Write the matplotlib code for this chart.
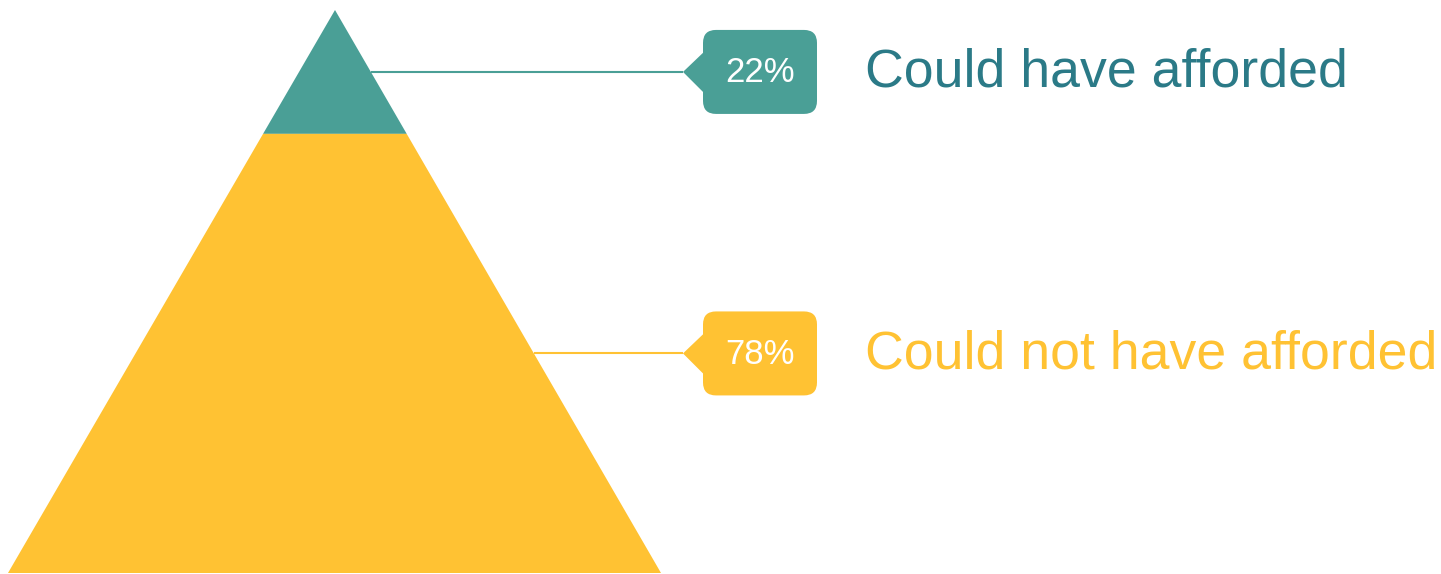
import numpy as np
import matplotlib
matplotlib.use("Agg")
import matplotlib.pyplot as plt
from matplotlib.patches import Polygon, FancyBboxPatch

# data
labels = ["Could have afforded", "Could not have afforded"]
shares = [22, 78]
fill_colors = ["#4a9f96", "#ffc233"]
text_colors = ["#2b7a87", "#ffc233"]

plt.rcParams['font.family'] = ['Liberation Sans', 'DejaVu Sans']

W, H = 1441, 574
fig = plt.figure(figsize=(W / 100, H / 100), dpi=100)
ax = fig.add_axes([0, 0, 1, 1])
ax.set_xlim(0, W)
ax.set_ylim(H, 0)
ax.axis('off')

# pyramid geometry (pixel space)
apex_x, apex_y = 335, 10
base_y, base_l, base_r = 573, 8, 661
height = base_y - apex_y


def edge_x(y, side):
    t = (y - apex_y) / height
    end = base_r if side > 0 else base_l
    return apex_x + (end - apex_x) * t


box_l, box_w, box_h = 703, 114, 84
tip_x = 683
text_x = 865

top = apex_y
for lab, sh, fc, tc in zip(labels, shares, fill_colors, text_colors):
    bot = top + height * sh / 100
    pts = [(edge_x(top, -1), top), (edge_x(top, 1), top),
           (edge_x(bot, 1), bot), (edge_x(bot, -1), bot)]
    ax.add_patch(Polygon(pts, closed=True, facecolor=fc, edgecolor='none'))

    mid = (top + bot) / 2
    # connector line
    ax.plot([edge_x(mid, 1), tip_x], [mid, mid], color=fc, lw=1.5,
            solid_capstyle='butt')
    # callout box with tail
    ax.add_patch(FancyBboxPatch((box_l, mid - box_h / 2), box_w, box_h,
                                boxstyle="round,pad=0,rounding_size=13",
                                facecolor=fc, edgecolor='none'))
    ax.add_patch(Polygon([(tip_x, mid), (box_l + 2, mid - 21),
                          (box_l + 2, mid + 22)], closed=True,
                         facecolor=fc, edgecolor='none'))
    ax.text(box_l + box_w / 2, mid + 1, f"{sh}%", color='white', fontsize=25,
            ha='center', va='center')
    ax.text(text_x, mid + 15, lab, color=tc, fontsize=38.6,
            ha='left', va='baseline')
    top = bot

fig.savefig("out.png", dpi=100, facecolor='white')
